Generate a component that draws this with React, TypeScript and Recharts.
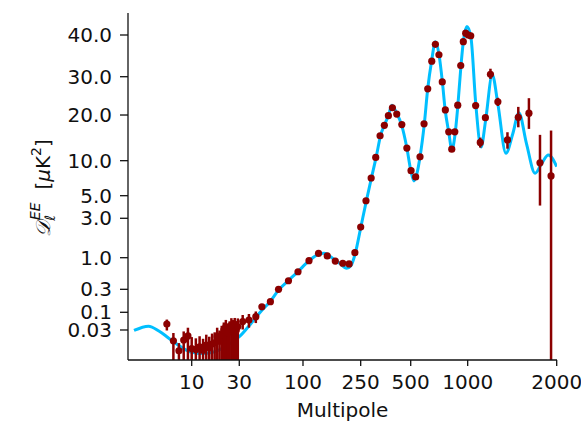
import React from "react";
import { ComposedChart, Line, Scatter, XAxis, YAxis, ErrorBar, Label } from "recharts";

// axis ticks
const X_TICKS = [10, 30, 100, 250, 500, 1000, 2000];
const X_TICK_LABELS = ["10", "30", "100", "250", "500", "1000", "2000"];
const Y_TICKS = [0.03, 0.1, 0.3, 1, 3, 5, 10, 20, 30, 40];
const Y_TICK_LABELS = ["0.03", "0.1", "0.3", "1.0", "3.0", "5.0", "10.0", "20.0", "30.0", "40.0"];

// best-fit model curve
const MODEL_L = [
  2, 3, 4, 5, 6, 8, 10, 13, 17, 23, 30, 38, 46, 54, 63, 76, 91, 110, 128, 140, 160, 180, 200,
  215, 230, 250, 270, 290, 310, 330, 350, 368, 385, 410, 440, 475, 500, 520, 540, 560, 590,
  615, 645, 675, 705, 735, 760, 795, 825, 855, 885, 920, 950, 990, 1025, 1065, 1110, 1150,
  1211, 1265, 1347, 1420, 1490, 1580, 1690, 1780, 1875, 2000,
];
const MODEL_D = [
  0.029, 0.039, 0.028, 0.019, 0.0135, 0.0084, 0.0066, 0.0061, 0.0068, 0.0108, 0.019, 0.05,
  0.11, 0.17, 0.29, 0.42, 0.59, 0.89, 1.1, 1.13, 0.98, 0.8, 0.67, 0.75, 1.15, 2.3, 4.4, 7.1,
  10.6, 14.8, 17.5, 20, 22.2, 20.5, 17.3, 12, 8.3, 6.7, 7.8, 10.6, 17.5, 26.4, 33.5, 38.2, 35,
  28.4, 21.2, 15.3, 11.8, 14.5, 21.5, 32, 38.5, 42.4, 39.5, 22.5, 12.3, 18.5, 30.4, 22.5,
  11.2, 15, 20.5, 13, 7.8, 9.5, 10.9, 8.9,
];

// measured band powers
const DATA_L = [
  5, 6, 7, 8, 9, 10, 11, 12, 13, 14, 15, 16, 17, 18, 19, 20, 21, 22, 23, 24, 25, 26, 27, 28, 29,
  32, 36, 41, 46, 54, 63, 76, 91, 110, 128, 147, 167, 188, 208, 228, 250, 269, 289, 308, 327,
  347, 367, 388, 412, 442, 474, 502, 531, 560, 588, 615, 646, 675, 705, 734, 762, 794, 824,
  855, 886, 919, 948, 976, 1005, 1024, 1064, 1103, 1148, 1194, 1265, 1363, 1483, 1611, 1756,
  1914,
];
const DATA_D = [
  0.045, 0.0144, 0.0073, 0.0152, 0.02, 0.0085, 0.008, 0.0096, 0.0075, 0.0108, 0.009, 0.0115,
  0.0126, 0.019, 0.014, 0.022, 0.03, 0.0375, 0.025, 0.032, 0.042, 0.035, 0.042, 0.03, 0.038,
  0.053, 0.059, 0.074, 0.13, 0.166, 0.3, 0.416, 0.586, 0.892, 1.13, 1.05, 0.88, 0.81, 0.79,
  1.15, 2.35, 4.46, 7.1, 10.5, 14.6, 17.1, 19.8, 21.6, 20.2, 17.3, 12.1, 8.2, 7.25, 10.6, 17.5,
  26.4, 33.4, 37.5, 34.9, 28.4, 21.1, 15.5, 11.9, 15.5, 22.2, 32.4, 38.2, 40.5, 40.0, 39.8,
  22.1, 13.2, 19.2, 30.5, 23.0, 13.7, 19.3, 20.4, 9.6, 7.4,
];
const DATA_ERR_LO = [
  0.016, 0.016, 0.009, 0.017, 0.022, 0.012, 0.011, 0.012, 0.011, 0.013, 0.012, 0.014, 0.015,
  0.02, 0.017, 0.023, 0.031, 0.038, 0.027, 0.033, 0.043, 0.036, 0.043, 0.031, 0.039,
  0.022, 0.024, 0.026, 0.01, 0.012, 0.015, 0.015, 0.02, 0.02, 0.03, 0.03, 0.03, 0.03, 0.03,
  0.04, 0.05, 0.08, 0.1, 0.15, 0.2, 0.25, 0.3, 0.3, 0.3, 0.3, 0.3, 0.3, 0.3, 0.3, 0.4, 0.4,
  0.5, 0.5, 0.5, 0.5, 0.5, 0.5, 0.5, 0.5, 0.5, 0.6, 0.6, 0.7, 0.7, 0.7, 0.7, 1.0, 0.8, 1.2,
  1.0, 1.7, 2.7, 4.2, 5.6, 10,
];
const DATA_ERR_HI = [
  0.016, 0.01, 0.005, 0.012, 0.015, 0.01, 0.009, 0.01, 0.009, 0.011, 0.01, 0.012, 0.013,
  0.016, 0.015, 0.018, 0.02, 0.022, 0.02, 0.022, 0.025, 0.024, 0.026, 0.025, 0.028,
  0.03, 0.03, 0.03, 0.01, 0.012, 0.015, 0.015, 0.02, 0.02, 0.03, 0.03, 0.03, 0.03, 0.03,
  0.04, 0.05, 0.08, 0.1, 0.15, 0.2, 0.25, 0.3, 0.3, 0.3, 0.3, 0.3, 0.3, 0.3, 0.3, 0.4, 0.4,
  0.5, 0.5, 0.5, 0.5, 0.5, 0.5, 0.5, 0.5, 0.5, 0.6, 0.6, 0.7, 0.7, 0.7, 0.7, 1.0, 0.8, 1.2,
  1.0, 1.7, 2.5, 3.5, 5.2, 8.4,
];

// the axes are warped: log10(value) mapped piecewise-linearly onto [0, 1]
const X_KNOTS = [2, 10, 30, 100, 250, 500, 1000, 2000];
const X_KNOT_POS = [0.014, 0.1485, 0.2594, 0.4079, 0.5424, 0.659, 0.7918, 0.9993];
const Y_KNOTS = [0.03, 0.1, 0.3, 1, 3, 5, 10, 20, 30, 40];
const Y_KNOT_POS = [0.0865, 0.1375, 0.2037, 0.2948, 0.4084, 0.4735, 0.5744, 0.706, 0.8164, 0.9366];

function warp(v: number, knots: number[], pos: number[]) {
  const u = Math.log10(v);
  const us = knots.map((k) => Math.log10(k));
  let i = 0;
  while (i < us.length - 2 && u > us[i + 1]) i++;
  const t = (u - us[i]) / (us[i + 1] - us[i]);
  return pos[i] + t * (pos[i + 1] - pos[i]);
}
const wx = (l: number) => warp(l, X_KNOTS, X_KNOT_POS);
const wy = (d: number) => warp(d, Y_KNOTS, Y_KNOT_POS);

const X_TICK_POS = X_TICKS.map(wx);
const Y_TICK_POS = Y_TICKS.map(wy);
const nearest = (v: number, pos: number[]) => {
  let best = 0;
  pos.forEach((p, i) => {
    if (Math.abs(p - v) < Math.abs(pos[best] - v)) best = i;
  });
  return best;
};

const modelData = MODEL_L.map((l, i) => ({ x: wx(l), y: wy(MODEL_D[i]) }));
const pointData = DATA_L.map((l, i) => {
  const y = wy(DATA_D[i]);
  const lo = DATA_D[i] - DATA_ERR_LO[i];
  const yLo = lo > 0 ? Math.max(0, wy(lo)) : 0;
  const yHi = Math.min(1, wy(DATA_D[i] + DATA_ERR_HI[i]));
  return { x: wx(l), y, err: [y - yLo, yHi - y] };
});

const FONT = "DejaVu Sans, sans-serif";
const INK = "#111";
const RED = "#8B0000";
const BLUE = "#00BFFF";

const Dot = (props: any) => <circle cx={props.cx} cy={props.cy} r={3.6} fill={RED} />;

const YLabel = () => (
  <text
    x={50}
    y={188}
    transform="rotate(-90 50 188)"
    textAnchor="middle"
    fontSize={20}
    fontFamily={FONT}
    fill={INK}
  >
    <tspan fontStyle="italic">𝒟</tspan>
    <tspan fontSize={14} dy={5} fontStyle="italic">ℓ</tspan>
    <tspan fontSize={14} dx={-5} dy={-15} fontStyle="italic">EE</tspan>
    <tspan dy={10}>{"\u00A0\u00A0["}</tspan>
    <tspan fontStyle="italic">μ</tspan>
    <tspan>K</tspan>
    <tspan fontSize={14} dy={-9}>2</tspan>
    <tspan dy={9}>]</tspan>
  </text>
);

export default function App() {
  return (
    <div style={{ position: "absolute", left: 0, top: 0, background: "#fff" }}>
      <ComposedChart
        width={581}
        height={423}
        margin={{ top: 13, right: 24, bottom: 0, left: 0 }}
      >
        <XAxis
          dataKey="x"
          type="number"
          domain={[0, 1]}
          allowDataOverflow
          ticks={X_TICK_POS}
          interval={0}
          tickFormatter={(v: number) => X_TICK_LABELS[nearest(v, X_TICK_POS)]}
          height={63}
          tickSize={6}
          tickMargin={9}
          stroke={INK}
          strokeWidth={1.3}
          tick={{ fill: INK, fontSize: 20, fontFamily: FONT }}
        >
          <Label
            value="Multipole"
            position="insideBottom"
            offset={6}
            style={{ fill: INK, fontSize: 20, fontFamily: FONT }}
          />
        </XAxis>
        <XAxis xAxisId="top" orientation="top" type="number" domain={[0, 1]} height={0} tick={false} tickLine={false} stroke={INK} strokeWidth={1.3} />
        <YAxis
          dataKey="y"
          type="number"
          domain={[0, 1]}
          allowDataOverflow
          ticks={Y_TICK_POS}
          interval={0}
          tickFormatter={(v: number) => Y_TICK_LABELS[nearest(v, Y_TICK_POS)]}
          width={128}
          tickSize={8}
          tickMargin={8}
          stroke={INK}
          strokeWidth={1.3}
          tick={{ fill: INK, fontSize: 20, fontFamily: FONT }}
        >
          <Label content={<YLabel />} />
        </YAxis>
        <YAxis yAxisId="right" orientation="right" type="number" domain={[0, 1]} width={0} tick={false} tickLine={false} stroke={INK} strokeWidth={1.3} />
        <Line
          data={modelData}
          dataKey="y"
          type="monotone"
          stroke={BLUE}
          strokeWidth={3}
          dot={false}
          activeDot={false}
          isAnimationActive={false}
        />
        <Scatter data={pointData} dataKey="y" shape={<Dot />} isAnimationActive={false}>
          <ErrorBar dataKey="err" direction="y" width={0} stroke={RED} strokeWidth={2.5} isAnimationActive={false} />
        </Scatter>
      </ComposedChart>
    </div>
  );
}
